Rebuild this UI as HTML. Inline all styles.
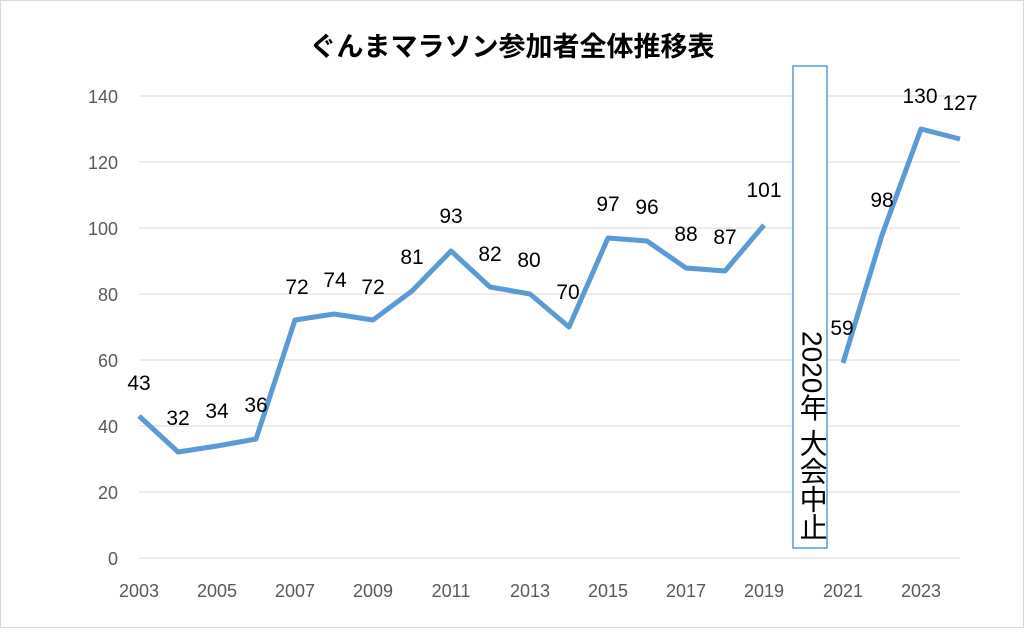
<!DOCTYPE html>
<html><head><meta charset="utf-8"><style>
body{margin:0;background:#fff}
svg text{font-family:"Liberation Sans","Noto Sans CJK JP",sans-serif}
</style></head><body>
<svg width="1024" height="628" viewBox="0 0 1024 628" xmlns="http://www.w3.org/2000/svg">
<rect x="0.5" y="0.5" width="1023" height="627" fill="#fff" stroke="#d9d9d9"/>
<text x="512" y="56" font-size="27" font-weight="bold" text-anchor="middle" fill="#000">ぐんまマラソン参加者全体推移表</text>
<g stroke="#d9d9d9" stroke-width="1">
<line x1="139" x2="960" y1="96" y2="96"/><line x1="139" x2="960" y1="162" y2="162"/>
<line x1="139" x2="960" y1="228" y2="228"/><line x1="139" x2="960" y1="294" y2="294"/>
<line x1="139" x2="960" y1="360" y2="360"/><line x1="139" x2="960" y1="426" y2="426"/>
<line x1="139" x2="960" y1="492" y2="492"/><line x1="139" x2="960" y1="558" y2="558"/>
</g>
<g font-size="18" fill="#595959" text-anchor="end">
<text x="118" y="103">140</text><text x="118" y="169">120</text><text x="118" y="235">100</text>
<text x="118" y="301">80</text><text x="118" y="367">60</text><text x="118" y="433">40</text>
<text x="118" y="499">20</text><text x="118" y="565">0</text>
</g>
<g font-size="18" fill="#595959" text-anchor="middle">
<text x="139" y="597">2003</text><text x="217" y="597">2005</text><text x="295" y="597">2007</text>
<text x="373" y="597">2009</text><text x="451" y="597">2011</text><text x="530" y="597">2013</text>
<text x="608" y="597">2015</text><text x="686" y="597">2017</text><text x="764" y="597">2019</text>
<text x="843" y="597">2021</text><text x="921" y="597">2023</text>
</g>
<g fill="none" stroke="#5b9bd5" stroke-width="5" stroke-linejoin="round">
<polyline points="139,416 178,452 217,446 256,439 295,320 334,314 373,320 412,291 451,251 490,287 530,294 569,327 608,238 647,241 686,268 725,271 764,225"/>
<polyline points="843,363 882,235 921,129 960,139"/>
</g>
<rect x="793" y="66" width="34" height="482" fill="#fff" stroke="#5b9bd5" stroke-width="1.5"/>
<text x="810" y="331" font-size="28" fill="#000" style="writing-mode:vertical-rl;text-orientation:mixed" text-anchor="start" dominant-baseline="middle">2020年 大会中止</text>
<g font-size="21" fill="#000" text-anchor="middle">
<text x="139" y="390">43</text><text x="178" y="425">32</text><text x="217" y="418">34</text>
<text x="256" y="412">36</text><text x="297" y="294">72</text><text x="335" y="287">74</text>
<text x="373" y="294">72</text><text x="412" y="264">81</text><text x="451" y="223">93</text>
<text x="490" y="261">82</text><text x="529" y="267">80</text><text x="568" y="299">70</text>
<text x="608" y="211">97</text><text x="647" y="214">96</text><text x="686" y="241">88</text>
<text x="725" y="244">87</text><text x="764" y="197">101</text><text x="842" y="335">59</text>
<text x="882" y="207">98</text><text x="920" y="103">130</text><text x="960" y="110">127</text>
</g>
</svg>
</body></html>
